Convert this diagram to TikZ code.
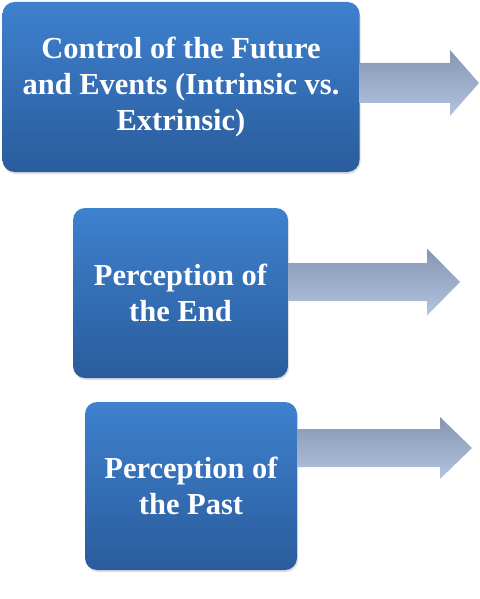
\documentclass[tikz,border=0pt]{standalone}
\usepackage{fontspec}
\setmainfont{Liberation Serif}
\usetikzlibrary{calc,shadows}

\definecolor{boxtop}{HTML}{3E81CE}
\definecolor{boxbottom}{HTML}{2A5C9C}
\definecolor{arrowtop}{HTML}{8696B2}
\definecolor{arrowbottom}{HTML}{B3C4E0}

\tikzset{
  factorbox/.style={rounded corners=12pt, top color=boxtop, bottom color=boxbottom,
    draw=none, text=white, font=\fontsize{30.5}{36}\selectfont\bfseries, align=center,
    inner sep=0pt, drop shadow={opacity=0.25, shadow xshift=1pt, shadow yshift=-2pt}},
  arrowshade/.style={top color=arrowtop, bottom color=arrowbottom}
}

% block arrow: #1 box, #2 tip, #3 half shaft, #4 half head, #5 head length
\newcommand{\blockarrow}[5]{%
  \coordinate (#2s) at (#1.east |- #2);
  \shade[arrowshade] ($(#2s)+(0,-#3)$) -- ($(#2)+(-#5,-#3)$) -- ($(#2)+(-#5,-#4)$) -- (#2)
    -- ($(#2)+(-#5,#4)$) -- ($(#2)+(-#5,#3)$) -- ($(#2s)+(0,#3)$) -- cycle;}

\begin{document}
\begin{tikzpicture}[x=1pt,y=-1pt]
\useasboundingbox (0,0) rectangle (479,599);
\node[factorbox, minimum width=357, minimum height=170] (future) at (181,87)
  {Control of the Future\\and Events (Intrinsic vs.\\Extrinsic)};
\node[factorbox, minimum width=215, minimum height=170] (end) at (180.5,293)
  {Perception of\\the End};
\node[factorbox, minimum width=212, minimum height=168] (past) at (191,486)
  {Perception of\\the Past};
\coordinate (tipfuture) at (479,83);
\coordinate (tipend) at (460,282);
\coordinate (tippast) at (472,448);
\blockarrow{future}{tipfuture}{20}{33}{29}
\blockarrow{end}{tipend}{19}{33.5}{33}
\blockarrow{past}{tippast}{19}{31}{32}
\end{tikzpicture}
\end{document}
